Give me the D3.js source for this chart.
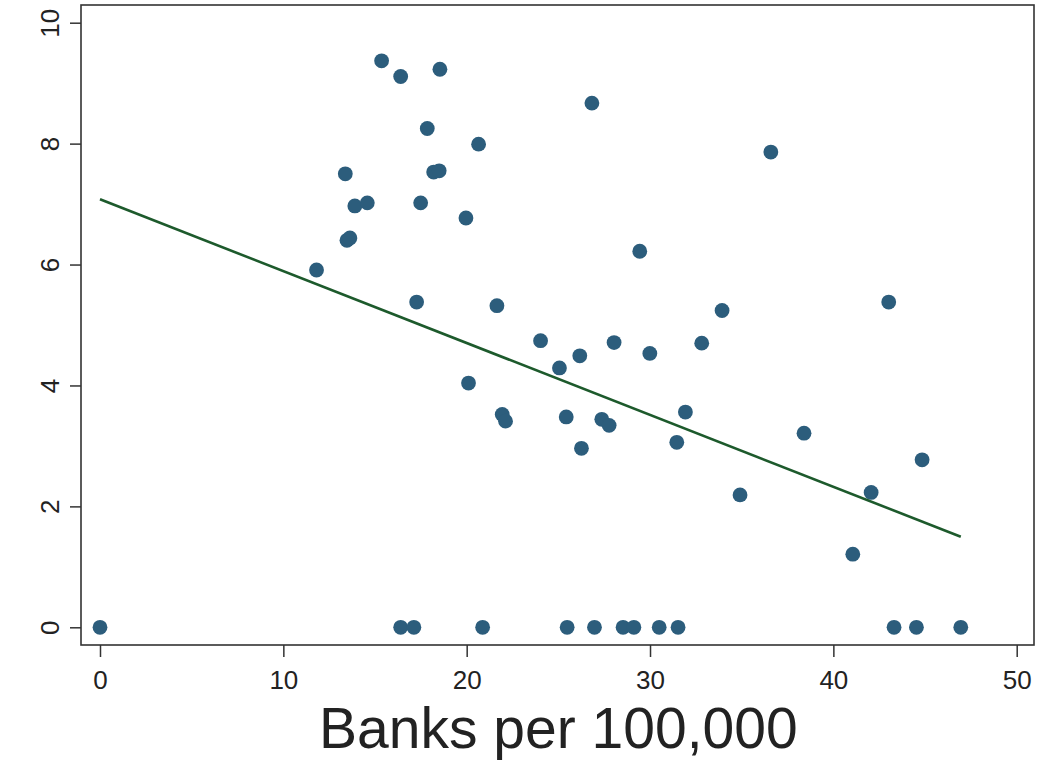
<!DOCTYPE html>
<html>
<head>
<meta charset="utf-8">
<script src="https://cdn.jsdelivr.net/npm/d3@7"></script>
<style>
  html, body { margin: 0; padding: 0; background: #fff; }
  svg { display: block; }
</style>
</head>
<body>
<svg id="chart" width="1037" height="762"></svg>
<script>
// ---- data ----
const banksPer100k = [
  0, 16.40, 17.12, 20.87, 25.48, 26.97, 28.53, 29.12, 30.50, 31.53, 43.31, 44.53, 46.95,
  15.36, 16.40, 18.54, 17.85, 20.65, 13.38, 18.20, 18.50, 13.90, 14.58, 17.49, 19.96,
  13.47, 13.63, 11.81, 17.27, 21.65, 24.03, 26.17, 25.06, 28.04, 29.99, 32.82, 20.10,
  21.94, 22.12, 25.43, 27.37, 27.77, 26.26, 31.93, 31.46, 29.44, 26.83, 36.59, 33.93,
  43.02, 38.40, 44.84, 34.91, 42.06, 41.06
];
const outcome = [
  0, 0, 0, 0, 0, 0, 0, 0, 0, 0, 0, 0, 0,
  9.37, 9.11, 9.23, 8.25, 7.99, 7.50, 7.53, 7.55, 6.97, 7.02, 7.02, 6.77,
  6.40, 6.44, 5.91, 5.38, 5.32, 4.74, 4.49, 4.29, 4.71, 4.53, 4.70, 4.04,
  3.52, 3.41, 3.48, 3.44, 3.34, 2.96, 3.56, 3.06, 6.22, 8.67, 7.86, 5.24,
  5.38, 3.21, 2.77, 2.19, 2.23, 1.21
];
const fitIntercept = 7.08;
const fitSlope = -0.1189;
const xTicks = [0, 10, 20, 30, 40, 50];
const yTicks = [0, 2, 4, 6, 8, 10];
const xTitle = "Banks per 100,000";

// ---- drawing ----
const svg = d3.select("#chart");
const frame = {left: 81, top: 5, right: 1034, bottom: 645};
const x = d3.scaleLinear().domain([0, 50]).range([100, 1016.7]);
const y = d3.scaleLinear().domain([0, 10]).range([627.3, 22.7]);
const font = "'Liberation Sans', Arial, Helvetica, sans-serif";
const ink = "#222";

svg.append("rect").attr("width", 1037).attr("height", 762).attr("fill", "#fff");

// axes
const gx = svg.append("g").attr("transform", `translate(0,${frame.bottom})`)
  .call(d3.axisBottom(x).tickValues(xTicks).tickSize(12).tickSizeOuter(0).tickFormat(d3.format("d")));
gx.select(".domain").remove();
gx.selectAll("line").attr("stroke", "#333").attr("stroke-width", 1.5);
gx.selectAll("text").attr("y", 44).attr("dy", 0)
  .style("font-family", font).style("font-size", "26px").attr("fill", ink);

const gy = svg.append("g").attr("transform", `translate(${frame.left},0)`)
  .call(d3.axisLeft(y).tickValues(yTicks).tickSize(11).tickSizeOuter(0).tickFormat(d3.format("d")));
gy.select(".domain").remove();
gy.selectAll("line").attr("stroke", "#333").attr("stroke-width", 1.5);
gy.selectAll("text").attr("x", 0).attr("dy", 0)
  .attr("transform", "translate(-22,0) rotate(-90)")
  .attr("text-anchor", "middle")
  .style("font-family", font).style("font-size", "26px").attr("fill", ink);

// frame
svg.append("rect")
  .attr("x", frame.left).attr("y", frame.top)
  .attr("width", frame.right - frame.left).attr("height", frame.bottom - frame.top)
  .attr("fill", "none").attr("stroke", "#333").attr("stroke-width", 1.6);

// points
const pts = banksPer100k.map((b, i) => ({b, v: outcome[i]}));
svg.append("g").selectAll("circle").data(pts).join("circle")
  .attr("cx", d => x(d.b)).attr("cy", d => y(d.v)).attr("r", 7.4)
  .attr("fill", "#2c5d7c");

// fitted line
const xMax = d3.max(banksPer100k);
const lineData = [0, xMax].map(b => ({b, v: fitIntercept + fitSlope * b}));
svg.append("path").datum(lineData)
  .attr("d", d3.line().x(d => x(d.b)).y(d => y(d.v)))
  .attr("fill", "none").attr("stroke", "#1d5a2c").attr("stroke-width", 2.6);

// title
svg.append("text")
  .attr("x", (x(0) + x(50)) / 2).attr("y", 748)
  .attr("text-anchor", "middle")
  .style("font-family", font).style("font-size", "57px").attr("fill", ink)
  .text(xTitle);
</script>
</body>
</html>
